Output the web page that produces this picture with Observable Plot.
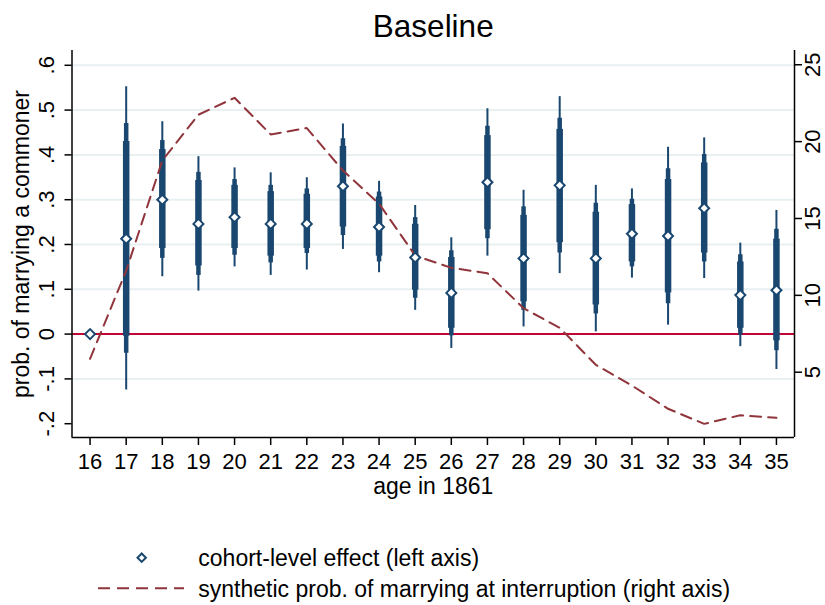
<!DOCTYPE html>
<html><head><meta charset="utf-8">
<script src="https://cdn.jsdelivr.net/npm/d3@7"></script>
<script src="https://cdn.jsdelivr.net/npm/@observablehq/plot@0.6"></script>
<style>
body{margin:0;background:#fff;}
#chart svg{display:block}
</style></head><body><div id="chart"></div>
<script>
// ---- data ----
const ages = [16,17,18,19,20,21,22,23,24,25,26,27,28,29,30,31,32,33,34,35];
const estimate = [0,0.213,0.300,0.246,0.261,0.246,0.246,0.330,0.239,0.171,0.092,0.339,0.169,0.332,0.169,0.224,0.219,0.281,0.087,0.098];
const ci99Low  = [null,-0.125,0.128,0.096,0.150,0.131,0.143,0.189,0.137,0.053,-0.032,0.174,0.016,0.135,0.005,0.125,0.020,0.124,-0.028,-0.079];
const ci99High = [null,0.552,0.474,0.396,0.371,0.360,0.349,0.469,0.341,0.287,0.215,0.503,0.321,0.530,0.332,0.324,0.417,0.438,0.203,0.276];
const ci95Low  = [null,-0.043,0.169,0.131,0.176,0.159,0.180,0.220,0.161,0.080,-0.004,0.213,0.053,0.181,0.045,0.150,0.068,0.161,-0.002,-0.037];
const ci95High = [null,0.470,0.432,0.361,0.345,0.332,0.324,0.436,0.317,0.260,0.186,0.464,0.284,0.482,0.292,0.301,0.369,0.401,0.177,0.234];
const ci90Low  = [null,-0.005,0.191,0.152,0.191,0.174,0.191,0.239,0.174,0.098,0.013,0.233,0.072,0.204,0.065,0.161,0.092,0.181,0.013,-0.015];
const ci90High = [null,0.430,0.412,0.343,0.332,0.318,0.312,0.419,0.306,0.245,0.171,0.443,0.265,0.457,0.272,0.289,0.345,0.382,0.161,0.212];
const synthetic = [5.87,11.6,18.77,21.75,22.85,20.47,20.88,18.12,15.96,12.59,11.79,11.44,9.16,7.89,5.48,4.13,2.62,1.64,2.2,2.03];

const leftTicks = [-0.2,-0.1,0,0.1,0.2,0.3,0.4,0.5,0.6];
const leftGrid = [-0.1,0.1,0.2,0.3,0.4,0.5,0.6];
const rightTicks = [5,10,15,20,25];
const xDomain = [15.5, 35.5];
const yDomain = [-0.2308, 0.633];

const titleText = "Baseline";
const yTitle = "prob. of marrying a commoner";
const xTitle = "age in 1861";
const legendLabels = ["cohort-level effect (left axis)", "synthetic prob. of marrying at interruption (right axis)"];

// right axis -> left axis mapping
const rA = -0.2566, rB = 0.03431;
const toLeft = v => rA + rB * v;
const fromLeft = u => (u - rA) / rB;

const rows = ages.map((a, i) => ({
  age: a, est: estimate[i], syn: synthetic[i],
  lo99: ci99Low[i], hi99: ci99High[i],
  lo95: ci95Low[i], hi95: ci95High[i],
  lo90: ci90Low[i], hi90: ci90High[i]
}));
const bars = rows.filter(d => d.lo99 != null);

const navy = "#1a476f";
const maroon = "#90353b";
const font = "'Liberation Sans', Arial, Helvetica, sans-serif";
const fmtLeft = d => {
  const r = Math.round(d * 10);
  if (r === 0) return "0";
  return (r < 0 ? "-" : "") + "." + Math.abs(r);
};

const chart = Plot.plot({
  width: 825, height: 510,
  marginLeft: 71.5, marginRight: 31, marginTop: 50, marginBottom: 73,
  style: {fontFamily: font, background: "#fff", color: "#000"},
  x: {domain: xDomain},
  y: {domain: yDomain},
  marks: [
    Plot.ruleY(leftGrid, {stroke: "#e9f0f2", strokeWidth: 2}),
    Plot.ruleY([0], {stroke: "#c10534", strokeWidth: 2}),
    Plot.ruleX(bars, {x: "age", y1: "lo99", y2: "hi99", stroke: navy, strokeWidth: 2}),
    Plot.ruleX(bars, {x: "age", y1: "lo95", y2: "hi95", stroke: navy, strokeWidth: 4.5}),
    Plot.ruleX(bars, {x: "age", y1: "lo90", y2: "hi90", stroke: navy, strokeWidth: 6.5}),
    Plot.line(rows, {x: "age", y: d => toLeft(d.syn), stroke: maroon, strokeWidth: 2, strokeDasharray: "11,7"}),
    Plot.dot(rows, {x: "age", y: "est", symbol: "diamond2", r: 4.5, fill: "white", stroke: navy, strokeWidth: 2}),
    Plot.ruleX([xDomain[0]], {stroke: "#000", strokeWidth: 1.5}),
    Plot.ruleX([xDomain[1]], {stroke: "#000", strokeWidth: 1.5}),
    Plot.ruleY([yDomain[0]], {stroke: "#000", strokeWidth: 1.5}),
    Plot.axisX({ticks: ages, tickFormat: d => String(d), tickSize: 8, tickPadding: 8, fontSize: 22, label: null, strokeWidth: 1.5}),
    Plot.axisY({anchor: "left", ticks: leftTicks, tickFormat: fmtLeft, tickSize: 7, tickPadding: 11.5,
      tickRotate: -90, textAnchor: "middle", lineAnchor: "bottom", fontSize: 22, label: null, strokeWidth: 1.5}),
    Plot.axisY({anchor: "right", ticks: rightTicks.map(toLeft), tickFormat: d => String(Math.round(fromLeft(d))),
      tickSize: 7, tickPadding: 3, tickRotate: -90, textAnchor: "middle", lineAnchor: "top", fontSize: 22, label: null, strokeWidth: 1.5}),
    Plot.text([titleText], {frameAnchor: "top", dy: -14, lineAnchor: "bottom", fontSize: 31.5}),
    Plot.text([xTitle], {frameAnchor: "bottom", dy: 56, lineAnchor: "bottom", fontSize: 23}),
    Plot.text([yTitle], {frameAnchor: "left", dx: -43, rotate: -90, lineAnchor: "bottom", textAnchor: "middle", fontSize: 23})
  ]
});
document.getElementById("chart").appendChild(chart);

// legend below the plot
const leg = d3.create("svg").attr("width", 825).attr("height", 95)
  .style("display", "block").style("font-family", font);
leg.append("path").attr("transform", "translate(141.7,47.7)")
  .attr("d", "M0,-4.2L4.2,0L0,4.2L-4.2,0Z")
  .attr("fill", "white").attr("stroke", navy).attr("stroke-width", 2);
leg.append("line").attr("x1", 98).attr("x2", 184).attr("y1", 78.3).attr("y2", 78.3)
  .attr("stroke", maroon).attr("stroke-width", 2).attr("stroke-dasharray", "12,7");
leg.append("text").attr("x", 198.3).attr("y", 55.5).attr("font-size", 23).text(legendLabels[0]);
leg.append("text").attr("x", 198.3).attr("y", 86.5).attr("font-size", 23).text(legendLabels[1]);
document.getElementById("chart").appendChild(leg.node());
</script>
</body></html>
